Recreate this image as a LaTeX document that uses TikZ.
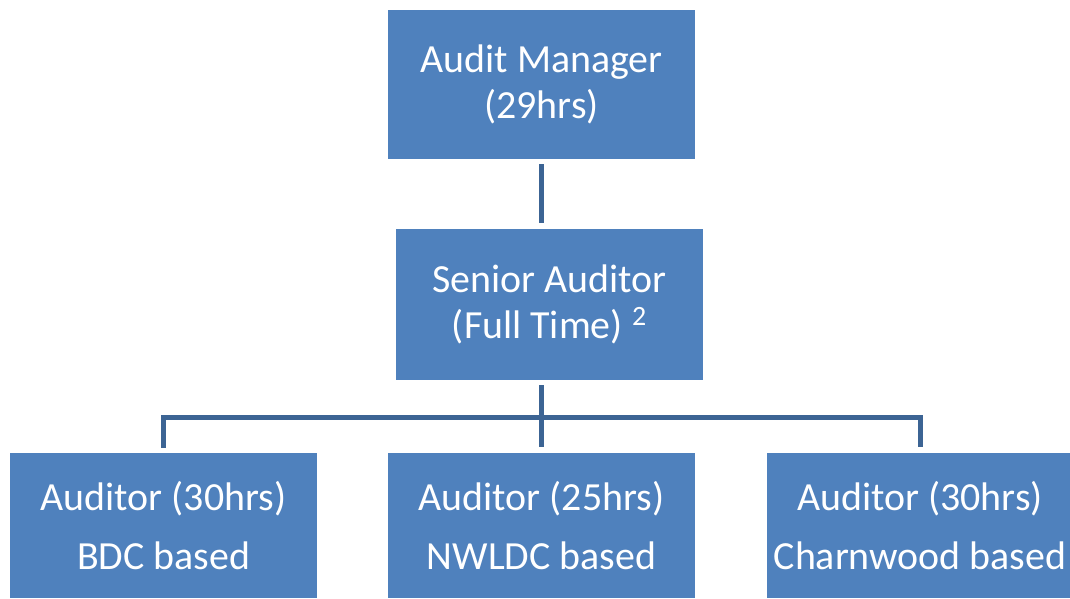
\documentclass[tikz,border=0pt]{standalone}
\usepackage{fontspec}
\setmainfont{Carlito}
\usetikzlibrary{calc, positioning}
\definecolor{boxblue}{HTML}{4F81BD}
\definecolor{linkblue}{HTML}{3C6494}

\begin{document}
\begin{tikzpicture}[x=0.02cm, y=-0.02cm,
    post/.style={fill=boxblue, text=white, inner sep=0pt, align=center,
      minimum width=6.14cm, minimum height=2.98cm,
      font=\fontsize{22.7}{25.8}\selectfont},
    lowpost/.style={post, minimum height=2.9cm,
      font=\fontsize{22.7}{34}\selectfont},
    link/.style={linkblue, line width=0.1cm, shorten <=0.1cm, shorten >=0.12cm}]
  \useasboundingbox (0,0) rectangle (1070,598);
  \node[post] (mgr) at (541.5,84.5) {Audit Manager\\(29hrs)};
  \node[post, minimum height=3.02cm] (snr) at (549.5,304.5) {Senior Auditor\\(Full Time) \textsuperscript{2}};
  \node[lowpost] (bdc) at (163.5,525.5) {Auditor (30hrs)\\BDC based};
  \node[lowpost] (nwl) at (541.5,525.5) {Auditor (25hrs)\\NWLDC based};
  \node[lowpost] (chw) at (920,525.5) {Auditor (30hrs)\\Charnwood based};
  \coordinate (bus) at (541.5,417.5);
  % reporting lines
  \draw[link] (mgr.south) -- (mgr.south |- snr.north);
  \draw[link, shorten >=0pt] (mgr.south |- snr.south) -- (bus);
  \draw[link, shorten <=0pt] (bus) -- (nwl.north);
  \draw[link] (bdc.north) -- (bdc.north |- bus) -- (chw.north |- bus) -- (chw.north);
\end{tikzpicture}
\end{document}
